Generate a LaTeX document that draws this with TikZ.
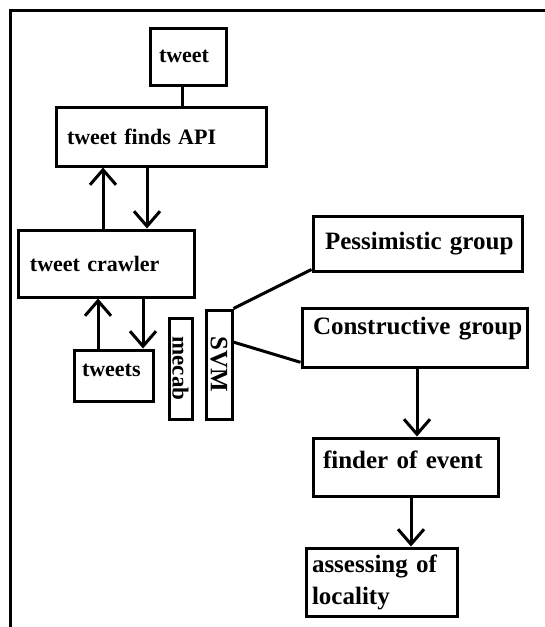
\documentclass[tikz,border=0pt]{standalone}
\usepackage{fontspec}
\setmainfont{Liberation Serif}
\usetikzlibrary{arrows.meta,calc}
\tikzset{
  box/.style={draw, line width=3pt, inner sep=0pt, align=left, font=\bfseries\fontsize{22}{26}\selectfont},
  bigbox/.style={box, font=\bfseries\fontsize{25}{32}\selectfont},
  vbox/.style={draw, line width=3pt, inner sep=0pt, font=\bfseries\fontsize{23}{26}\selectfont},
  conn/.style={line width=3pt},
  arr/.style={line width=3pt, -{Straight Barb[length=15pt,width=26pt,line width=3pt]}},
}
\begin{document}
\begin{tikzpicture}[x=1pt,y=-1pt]
\useasboundingbox (0,0) rectangle (545,627);
% frame
\draw[line width=3.5pt] (10.5,627) -- (10.5,10.5) -- (545,10.5);
% left column
\node[box, text width=76pt, minimum height=57pt] (tweet) at (188,56.5) {\hspace*{9pt}tweet};
\node[box, text width=210pt, minimum height=59pt] (api) at (161,136.5) {\hspace*{11pt}tweet finds API};
\node[box, text width=176pt, minimum height=67pt] (crawler) at (106,263.5) {\hspace*{12pt}tweet crawler};
\node[box, text width=79pt, minimum height=51pt, text depth=10pt] (tweets) at (113.5,375.5) {\hspace*{8pt}tweets};
\node[vbox, minimum width=23pt, minimum height=101pt] (mecab) at (180.5,368.5) {\rotatebox{-90}{mecab}};
\node[vbox, minimum width=26pt, minimum height=109pt, font=\bfseries\fontsize{25}{28}\selectfont] (svm) at (219,364.5) {\rotatebox{-90}{SVM}};
% right column
\node[bigbox, text width=209pt, minimum height=55pt] (pess) at (417.5,243.5) {\hspace*{12pt}Pessimistic group};
\node[bigbox, text width=225pt, minimum height=59pt, text depth=24pt] (cons) at (414.5,337.5) {\hspace*{11pt}Constructive group};
\node[bigbox, text width=185pt, minimum height=58pt, text depth=14pt] (finder) at (405.5,467) {\hspace*{10pt}finder of event};
\node[bigbox, text width=151pt, minimum height=68pt] (assess) at (381.5,582) {\hspace*{6pt}assessing of\\\hspace*{6pt}locality};
% connectors
\draw[conn] (tweet.south -| 182,0) -- (api.north -| 182,0);
\draw[arr] (crawler.north -| 103,0) -- (api.south -| 103,0);
\draw[arr] (api.south -| 147,0) -- (crawler.north -| 147,0);
\draw[arr] (tweets.north -| 98,0) -- (crawler.south -| 98,0);
\draw[arr] (crawler.south -| 143,0) -- (tweets.north -| 143,0);
\draw[conn] (svm.north east) -- ($(pess.south west)+(0,-3)$);
\draw[conn] ($(svm.north east)!0.3!(svm.south east)$) -- ($(cons.north west)!0.9!(cons.south west)$);
\draw[arr] (cons.south -| 417,0) -- (finder.north -| 417,0);
\draw[arr] (finder.south -| 411,0) -- (assess.north -| 411,0);
\end{tikzpicture}
\end{document}
